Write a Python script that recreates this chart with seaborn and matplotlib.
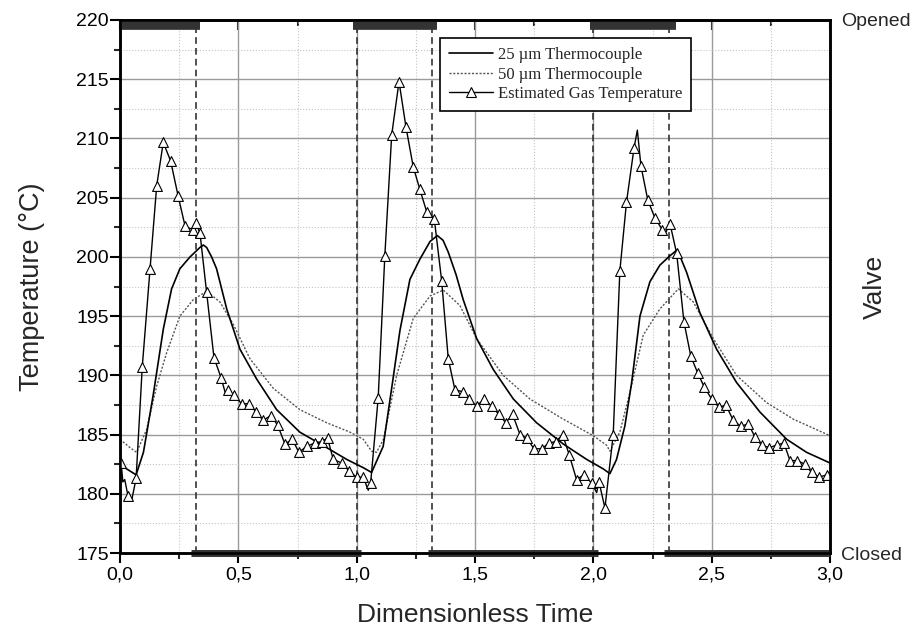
import matplotlib
matplotlib.use("Agg")
import matplotlib.pyplot as plt
from matplotlib.lines import Line2D
from matplotlib.ticker import MultipleLocator
import seaborn as sns
import pandas as pd

# values
gas_t = [0.005, 0.012, 0.020, 0.034, 0.049, 0.068, 0.094, 0.127, 0.155, 0.183,
         0.190, 0.214, 0.246, 0.275, 0.307, 0.320, 0.338, 0.366, 0.397, 0.427,
         0.448, 0.455, 0.482, 0.514, 0.546, 0.575, 0.605, 0.637, 0.666, 0.697,
         0.728, 0.756, 0.789, 0.824, 0.852, 0.877, 0.901, 0.937, 0.969, 1.000,
         1.028, 1.049, 1.059, 1.091, 1.119, 1.148, 1.179, 1.208, 1.239, 1.267,
         1.296, 1.328, 1.359, 1.387, 1.415, 1.448, 1.476, 1.507, 1.538, 1.570,
         1.601, 1.630, 1.659, 1.690, 1.719, 1.749, 1.782, 1.813, 1.842, 1.870,
         1.898, 1.929, 1.960, 1.993, 2.014, 2.024, 2.049, 2.084, 2.112, 2.140,
         2.172, 2.186, 2.201, 2.230, 2.260, 2.291, 2.307, 2.324, 2.352, 2.383,
         2.412, 2.441, 2.469, 2.500, 2.532, 2.560, 2.591, 2.623, 2.655, 2.683,
         2.711, 2.743, 2.774, 2.805, 2.831, 2.861, 2.894, 2.922, 2.954, 2.986,
         2.997]
gas_T = [182.6, 181.0, 181.2, 179.8, 179.4, 181.3, 190.7, 199.0, 206.0, 209.7,
         209.3, 208.1, 205.1, 202.6, 202.3, 202.9, 202.0, 197.0, 191.5, 189.8,
         188.3, 188.8, 188.3, 187.6, 187.6, 186.9, 186.2, 186.6, 185.8, 184.2,
         184.6, 183.5, 184.0, 184.3, 184.4, 184.7, 182.9, 182.6, 181.9, 181.4,
         181.4, 180.3, 180.9, 188.1, 200.1, 210.3, 214.8, 211.0, 207.6, 205.7,
         203.8, 203.2, 198.0, 191.4, 188.8, 188.6, 188.0, 187.4, 188.0, 187.4,
         186.7, 186.0, 186.7, 185.0, 184.7, 183.8, 183.8, 184.3, 184.4, 185.0,
         183.3, 181.2, 181.6, 180.9, 180.1, 181.0, 178.8, 185.0, 198.8, 204.6,
         209.2, 210.7, 207.7, 204.8, 203.3, 202.3, 202.1, 202.8, 200.3, 194.5,
         191.6, 190.2, 189.0, 188.0, 187.3, 187.5, 186.2, 185.7, 185.9, 184.8,
         184.1, 183.9, 184.1, 184.3, 182.8, 182.8, 182.5, 181.8, 181.4, 181.6,
         181.3]
# gas samples drawn without a triangle
gas_plain_t = [0.012, 0.020, 0.049, 0.190, 0.448, 1.049, 2.014, 2.186, 2.307, 2.997]

tc25_t = [0.0, 0.028, 0.068, 0.099, 0.140, 0.183, 0.218, 0.253, 0.296, 0.338,
          0.352, 0.366, 0.387, 0.408, 0.451, 0.507, 0.577, 0.662, 0.760, 0.873,
          0.958, 1.028, 1.063, 1.112, 1.150, 1.183, 1.225, 1.267, 1.310, 1.341,
          1.365, 1.387, 1.420, 1.450, 1.507, 1.577, 1.662, 1.760, 1.873, 1.972,
          2.042, 2.070, 2.098, 2.133, 2.162, 2.197, 2.239, 2.281, 2.324, 2.355,
          2.394, 2.450, 2.521, 2.605, 2.704, 2.817, 2.901, 3.0]
tc25_T = [182.5, 182.1, 181.6, 183.5, 188.3, 193.9, 197.3, 199.0, 200.0, 200.8,
          201.0, 200.8, 200.0, 199.0, 195.6, 192.2, 189.7, 187.1, 185.2, 183.9,
          182.9, 182.2, 181.8, 184.0, 189.2, 193.8, 198.1, 199.8, 201.3, 201.8,
          201.4, 200.4, 198.5, 196.4, 193.1, 190.5, 188.0, 186.0, 184.2, 182.9,
          182.1, 181.7, 182.9, 185.7, 189.4, 195.0, 197.9, 199.3, 200.1, 200.6,
          198.7, 195.3, 192.2, 189.4, 186.9, 184.6, 183.5, 182.6]

tc50_t = [0.0, 0.042, 0.070, 0.112, 0.155, 0.197, 0.253, 0.310, 0.366, 0.422,
          0.479, 0.549, 0.648, 0.760, 0.873, 0.972, 1.028, 1.063, 1.084, 1.113,
          1.169, 1.239, 1.310, 1.366, 1.436, 1.507, 1.619, 1.732, 1.873, 2.000,
          2.056, 2.070, 2.112, 2.155, 2.211, 2.281, 2.359, 2.422, 2.507, 2.605,
          2.732, 2.845, 3.0]
tc50_T = [184.6, 183.9, 183.5, 185.4, 189.1, 191.9, 195.0, 196.4, 197.1, 196.2,
          194.3, 191.4, 188.9, 187.1, 186.0, 185.2, 184.6, 183.6, 183.5, 184.6,
          190.0, 194.8, 196.7, 197.2, 195.9, 193.1, 190.0, 188.0, 186.3, 184.9,
          184.1, 183.6, 185.2, 188.6, 193.4, 195.6, 197.3, 196.2, 193.1, 190.0,
          187.7, 186.3, 184.9]

# valve signal: opened / closed periods and switching instants
valve_open = [(0.0, 0.34), (0.985, 1.34), (1.985, 2.35)]
valve_closed = [(0.30, 1.02), (1.30, 2.02), (2.30, 3.0)]
valve_switch = [0.32, 1.0, 1.32, 2.0, 2.32]

x_ticks = [0.0, 0.5, 1.0, 1.5, 2.0, 2.5, 3.0]
x_tick_labels = ["0,0", "0,5", "1,0", "1,5", "2,0", "2,5", "3,0"]
y_ticks = [175, 180, 185, 190, 195, 200, 205, 210, 215, 220]

gas = pd.DataFrame({"t": gas_t, "T": gas_T})
gas_marked = gas[~gas["t"].isin(gas_plain_t)]
tc25 = pd.DataFrame({"t": tc25_t, "T": tc25_T})
tc50 = pd.DataFrame({"t": tc50_t, "T": tc50_T})

sns.set_theme(style="ticks")
plt.rcParams["font.family"] = ["Liberation Sans", "DejaVu Sans"]

fig = plt.figure(figsize=(9.19, 6.34), dpi=100)
ax = fig.add_axes([120 / 919, 1 - 553 / 634, 710 / 919, 533 / 634])

ax.set_axisbelow(True)
ax.grid(which="major", color="#9a9a9a", lw=1.0, ls="-")
ax.grid(which="minor", color="#c4c4c4", lw=0.8, ls=":")

for xs in valve_switch:
    ax.axvline(xs, color="#333333", lw=1.2, ls=(0, (4, 2.5)), zorder=1.5)

sns.lineplot(data=tc50, x="t", y="T", ax=ax, color="#555555", lw=1.0,
             ls=(0, (1.5, 1.2)), sort=False, zorder=2)
sns.lineplot(data=tc25, x="t", y="T", ax=ax, color="black", lw=1.2,
             sort=False, zorder=3)
sns.lineplot(data=gas, x="t", y="T", ax=ax, color="black", lw=1.0,
             sort=False, zorder=4)
sns.scatterplot(data=gas_marked, x="t", y="T", ax=ax, marker="^", s=50,
                facecolor="white", edgecolor="black", linewidth=0.8, zorder=5)

ax.set_xlim(0, 3)
ax.set_ylim(175, 220)
ax.set_xticks(x_ticks)
ax.set_xticklabels(x_tick_labels)
ax.set_yticks(y_ticks)
ax.xaxis.set_minor_locator(MultipleLocator(0.25))
ax.yaxis.set_minor_locator(MultipleLocator(2.5))
ax.tick_params(which="major", direction="out", length=7, width=1.5,
               labelsize=14, colors="black", pad=3)
ax.tick_params(axis="y", which="major", pad=1)
ax.tick_params(which="minor", direction="out", length=4.5, width=1.5)
ax.set_xlabel("Dimensionless Time", fontsize=19)
ax.set_ylabel("Temperature (°C)", fontsize=19.5)
ax.xaxis.set_label_coords(0.5, -0.093)
ax.yaxis.set_label_coords(-0.105, 0.5)
for sp in ax.spines.values():
    sp.set_visible(True)
    sp.set_linewidth(1.8)
    sp.set_color("black")

top = ax.secondary_xaxis("top")
top.set_xticks(x_ticks)
top.xaxis.set_minor_locator(MultipleLocator(0.25))
top.tick_params(which="major", direction="in", length=7, width=1.5, labeltop=False)
top.tick_params(which="minor", direction="in", length=4.5, width=1.5)
top.spines["top"].set_linewidth(1.8)

# valve axis on the right
ax2 = ax.twinx()
ax2.set_ylim(0, 1)
for a, b in valve_open:
    ax2.plot([a, b], [0.99, 0.99], color="#333333", lw=7, solid_capstyle="butt",
             clip_on=False)
for a, b in valve_closed:
    ax2.plot([a, b], [0.0, 0.0], color="#333333", lw=5, solid_capstyle="butt",
             clip_on=False)
ax2.set_yticks([0, 1])
ax2.set_yticklabels(["Closed", "Opened"])
ax2.tick_params(axis="y", length=0, labelsize=14, pad=8)
ax2.set_ylabel("Valve", fontsize=19)
ax2.yaxis.set_label_coords(1.046, 0.5)
ax2.grid(False)
for sp in ax2.spines.values():
    sp.set_linewidth(1.8)
    sp.set_color("black")

handles = [
    Line2D([], [], color="black", lw=1.2, label="25 µm Thermocouple"),
    Line2D([], [], color="#555555", lw=1.0, ls=(0, (1.5, 1.2)),
           label="50 µm Thermocouple"),
    Line2D([], [], color="black", lw=1.0, marker="^", markersize=7.5,
           markerfacecolor="white", markeredgecolor="black", markeredgewidth=0.8,
           label="Estimated Gas Temperature"),
]
leg = ax2.legend(handles=handles, loc="upper left",
                 bbox_to_anchor=(440 / 919, 1 - 37.7 / 634),
                 bbox_transform=fig.transFigure, fancybox=False, framealpha=1,
                 edgecolor="black", handlelength=2.6, handletextpad=0.3,
                 labelspacing=0.22, borderpad=0.55, borderaxespad=0,
                 prop={"family": ["Liberation Serif", "DejaVu Serif"], "size": 12})
leg.get_frame().set_linewidth(1.2)

fig.savefig("out.png", dpi=100)
